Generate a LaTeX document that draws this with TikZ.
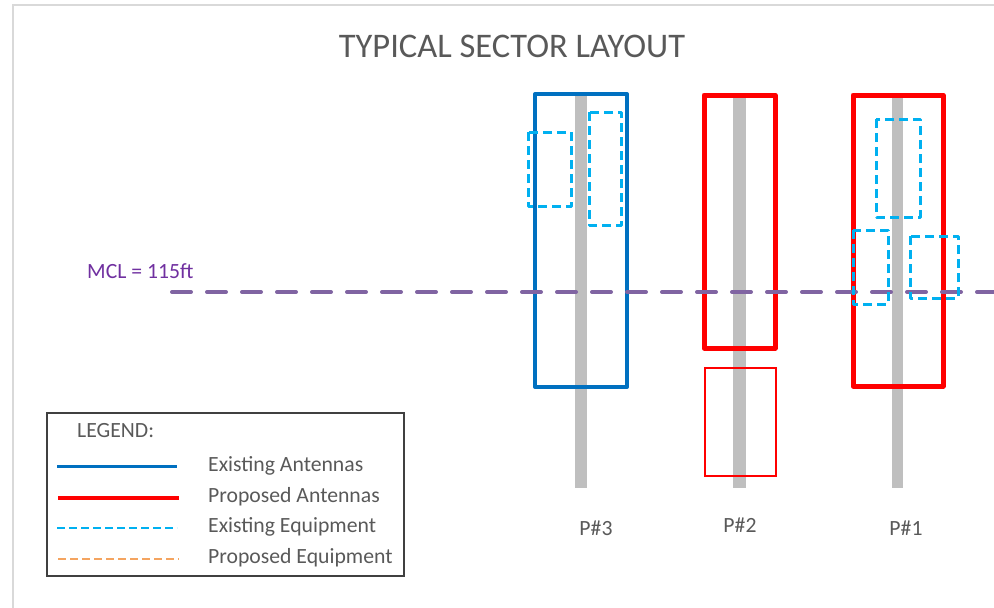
\documentclass[tikz,border=0pt]{standalone}
\usepackage{fontspec}
\setmainfont{Carlito}
\usetikzlibrary{positioning}

\definecolor{mastgray}{HTML}{BFBFBF}
\definecolor{exblue}{HTML}{0070C0}
\definecolor{prred}{HTML}{FF0000}
\definecolor{excyan}{HTML}{00B0F0}
\definecolor{prorange}{HTML}{F4A460}
\definecolor{mclpurple}{HTML}{7030A0}
\definecolor{mcldash}{HTML}{8064A2}
\definecolor{textgray}{HTML}{595959}
\definecolor{framegray}{HTML}{D9D9D9}

\tikzset{
	mast/.style={fill=mastgray, draw=none},
	exantenna/.style={draw=exblue, line width=4pt, line join=round},
	prantenna/.style={draw=prred, line width=5pt, line join=round},
	prthin/.style={draw=prred, line width=2pt},
	exequip/.style={draw=excyan, line width=3pt, dash pattern=on 9pt off 5pt, line join=round},
	prequip/.style={draw=prorange, line width=3pt, dash pattern=on 8pt off 5pt},
	mclline/.style={draw=mcldash, line width=4pt, dash pattern=on 19pt off 16pt, line cap=round},
	lbl/.style={text=textgray, font=\fontsize{21.7}{26}\selectfont, inner sep=0pt}
}

\begin{document}
\begin{tikzpicture}[x=1pt, y=-1pt]
	\useasboundingbox (0,0) rectangle (994,608);
	\draw[framegray, line width=1.5pt] (13,608) -- (13,5) -- (994,5);

	\node[text=textgray, font=\fontsize{34.5}{40}\selectfont, inner sep=0pt] (title) at (512,46) {TYPICAL SECTOR LAYOUT};

	% poles
	\fill[mast] (575,95) rectangle (587,488);
	\fill[mast] (733,95) rectangle (746,488);
	\fill[mast] (892,95) rectangle (903,488);

	% antennas
	\draw[exantenna] (535,94) rectangle (627,387);
	\draw[prantenna] (704,95) rectangle (775,348);
	\draw[prthin] (705,368) rectangle (776,476);
	\draw[prantenna] (853,95) rectangle (943,386);

	% mounting centreline
	\node[lbl, text=mclpurple, anchor=west] (mcl) at (87,271) {MCL = 115ft};
	\coordinate (mclstart) at (172,292);
	\coordinate (mclend) at (994,292);
	\draw[mclline] (mclstart) -- (mclend);

	% equipment
	\draw[exequip] (528,132) rectangle (571,206);
	\draw[exequip] (589,112) rectangle (621,225);
	\draw[exequip] (876,119) rectangle (920,217);
	\draw[exequip] (853,230) rectangle (888,304);
	\draw[exequip] (910,236) rectangle (958,298);

	% pole labels
	\node[lbl] (p3) at (596,528) {P\#3};
	\node[lbl] (p2) at (740,525) {P\#2};
	\node[lbl] (p1) at (906,528) {P\#1};

	% legend
	\draw[draw=black!75, line width=1.5pt] (47,413) rectangle (404,576);
	\node[lbl, anchor=west] (legend) at (77,431) {LEGEND:};
	\node[lbl, anchor=west] (exa) at (208,466) {Existing Antennas};
	\node[lbl, anchor=west] (pra) at (208,497) {Proposed Antennas};
	\node[lbl, anchor=west] (exe) at (208,527) {Existing Equipment};
	\node[lbl, anchor=west] (pre) at (208,558) {Proposed Equipment};
	\draw[draw=exblue, line width=3pt] (57,466) -- (177,466);
	\draw[draw=prred, line width=4pt] (58,498) -- (179,498);
	\draw[excyan, line width=2.5pt, dash pattern=on 8pt off 4pt] (57,528) -- (177,528);
	\draw[prequip, line width=2.5pt, dash pattern=on 8pt off 4pt] (58,559) -- (179,559);
\end{tikzpicture}
\end{document}
